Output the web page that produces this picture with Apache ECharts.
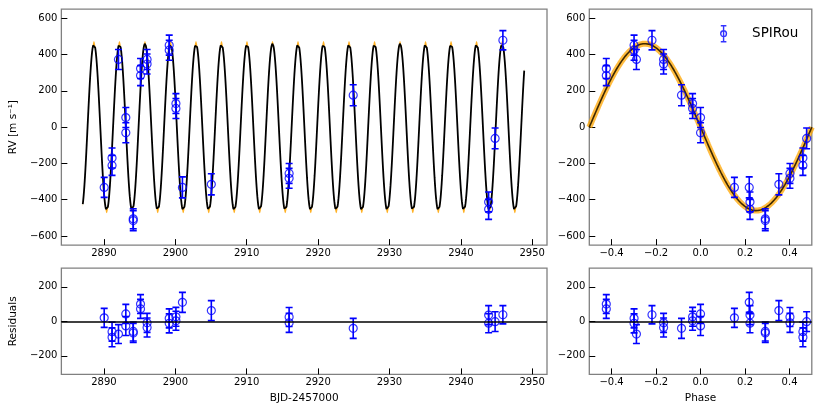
<!DOCTYPE html>
<html><head><meta charset="utf-8">
<script src="https://cdn.jsdelivr.net/npm/echarts@6/dist/echarts.min.js"></script>
<style>html,body{margin:0;padding:0;background:#fff}#c{width:822px;height:411px}</style>
</head><body><div id="c"></div>
<script>
const bjd = [2890.03, 2891.13, 2891.13, 2892.03, 2893.06, 2893.06, 2894.10, 2894.10, 2895.12, 2895.12,
             2896.04, 2896.04, 2899.14, 2899.14, 2900.08, 2900.08, 2900.99, 2905.04, 2915.94, 2915.94,
             2924.92, 2943.89, 2943.89, 2944.80, 2945.89];
const rv = [-332, -170, -211, 373, 53, -31, -505, -515, 323, 284,
            373, 348, 452, 424, 130, 103, -332, -315, -255, -282,
            176, -412, -453, -62, 479];
const rvErr = [55, 55, 55, 55, 55, 55, 55, 55, 55, 55,
               55, 55, 55, 55, 55, 55, 58, 58, 55, 55,
               58, 55, 55, 57, 53];
const residuals = [20, -60, -93, -74, 43, -27, -59, -68, 100, 72,
                   -9, -36, 17, -12, 26, 3, 110, 62, 25, -9,
                   -41, 36, -11, -2, 38];
// ---- fitted circular-orbit model parameters ----
const modelPeriod = 3.574;
const modelT0 = 2893.06;
const modelK = 460;
const modelSigma = 14;
// ---- ticks ----
const timeTicks = [2890, 2900, 2910, 2920, 2930, 2940, 2950];
const phaseTicks = [-0.4, -0.2, 0, 0.2, 0.4];
const rvTicks = [-600, -400, -200, 0, 200, 400, 600];
const residTicks = [-200, 0, 200];
const legendName = 'SPIRou';

function phaseOf(t) {
  let p = (t - modelT0) / modelPeriod;
  p = p - Math.floor(p);
  if (p >= 0.5) p -= 1;
  return p;
}
function model(t) { return -modelK * Math.sin(2 * Math.PI * (t - modelT0) / modelPeriod); }
function modelPhase(p) { return -modelK * Math.sin(2 * Math.PI * p); }

const tStart = Math.min(...bjd) - 3, tEnd = Math.max(...bjd) + 3;
const modelT = [];
for (let t = tStart; t <= tEnd + 1e-9; t += 0.01) modelT.push(t);
const modelLine = modelT.map(t => [t, model(t)]);
const modelPh = [];
for (let i = 0; i <= 500; i++) { const p = -0.5 + i / 500; modelPh.push([p, modelPhase(p)]); }

const timeData = bjd.map((t, i) => [t, rv[i], rvErr[i]]);
const phaseData = bjd.map((t, i) => [phaseOf(t), rv[i], rvErr[i]]);
const timeRes = bjd.map((t, i) => [t, residuals[i], rvErr[i]]);
const phaseRes = bjd.map((t, i) => [phaseOf(t), residuals[i], rvErr[i]]);

const BLUE = '#0000ff';
function errRender(params, api) {
  const x = api.value(0), y = api.value(1), e = api.value(2);
  const a = api.coord([x, y + e]), b = api.coord([x, y - e]);
  const w = 3.5;
  const st = { stroke: BLUE, lineWidth: 1.6, fill: null };
  return { type: 'group', children: [
    { type: 'line', shape: { x1: a[0], y1: a[1], x2: b[0], y2: b[1] }, style: st },
    { type: 'line', shape: { x1: a[0] - w, y1: a[1], x2: a[0] + w, y2: a[1] }, style: st },
    { type: 'line', shape: { x1: b[0] - w, y1: b[1], x2: b[0] + w, y2: b[1] }, style: st }
  ]};
}
function bandRender(params, api) {
  const up = modelT.map(t => api.coord([t, model(t) + modelSigma]));
  const lo = modelT.map(t => api.coord([t, model(t) - modelSigma])).reverse();
  return { type: 'polygon', shape: { points: up.concat(lo) }, style: { fill: '#ffa500', opacity: 0.85 } };
}
const fmt = v => { const s = String(v); return s.replace('-', '\u2212'); };
const fmtPh = v => v.toFixed(1).replace('-', '\u2212');
const FONT = 'DejaVu Sans';
function xAx(grid, min, max, ticks, f, name) {
  return { type: 'value', gridIndex: grid, min, max,
    axisLine: { show: false, onZero: false }, splitLine: { show: false },
    axisTick: { inside: true, length: 6, customValues: ticks, lineStyle: { color: '#000', width: 1 } },
    axisLabel: { customValues: ticks, formatter: f, color: '#000', fontSize: 10, fontFamily: FONT, margin: 3 },
    name: name || '', nameLocation: 'middle', nameGap: 18,
    nameTextStyle: { color: '#000', fontSize: 10.5, fontFamily: FONT } };
}
function yAx(grid, min, max, ticks, name) {
  return { type: 'value', gridIndex: grid, min, max,
    axisLine: { show: false, onZero: false }, splitLine: { show: false },
    axisTick: { inside: true, length: 6, customValues: ticks, lineStyle: { color: '#000', width: 1 } },
    axisLabel: { customValues: ticks, formatter: fmt, color: '#000', fontSize: 10, fontFamily: FONT, margin: 4 },
    name: name || '', nameLocation: 'middle', nameGap: 36,
    nameTextStyle: { color: '#000', fontSize: 10.5, fontFamily: FONT } };
}
const GB = { show: true, borderColor: '#808080', borderWidth: 1.3, backgroundColor: 'transparent' };
const TMIN = 2884.03, TMAX = 2952.07;
const option = {
  animation: false,
  backgroundColor: '#fff',
  grid: [
    Object.assign({ left: 58.5, top: 9.2, width: 488.5, height: 235.9 }, GB),
    Object.assign({ left: 589.3, top: 9.2, width: 222.5, height: 235.9 }, GB),
    Object.assign({ left: 58.5, top: 268.2, width: 488.5, height: 106.2 }, GB),
    Object.assign({ left: 589.3, top: 268.2, width: 222.5, height: 106.2 }, GB)
  ],
  xAxis: [
    xAx(0, TMIN, TMAX, timeTicks, fmt),
    xAx(1, -0.5, 0.5, phaseTicks, fmtPh),
    xAx(2, TMIN, TMAX, timeTicks, fmt, 'BJD-2457000'),
    xAx(3, -0.5, 0.5, phaseTicks, fmtPh, 'Phase')
  ],
  yAxis: [
    yAx(0, -650, 650, rvTicks, 'RV [m s\u207B\u00B9]'),
    yAx(1, -650, 650, rvTicks),
    yAx(2, -308, 308, residTicks, 'Residuals'),
    yAx(3, -308, 308, residTicks)
  ],
  legend: {
    data: [{ name: legendName,
      icon: 'path://M5 0V20M1.5 0H8.5M1.5 20H8.5M1.4 10A3.6 3.6 0 1 0 8.6 10A3.6 3.6 0 1 0 1.4 10Z',
      itemStyle: { color: 'rgba(0,0,0,0)', borderColor: BLUE, borderWidth: 1.4 } }],
    left: 715, top: 20, itemWidth: 9, itemHeight: 16,
    textStyle: { fontSize: 13.5, fontFamily: FONT, color: '#000', padding: [0, 0, 0, 19] },
    selectedMode: false
  },
  series: [
    { type: 'custom', name: 'band', xAxisIndex: 0, yAxisIndex: 0, data: [[tStart, 0]], renderItem: bandRender, silent: true, clip: true, z: 1 },
    { type: 'line', name: 'model', xAxisIndex: 0, yAxisIndex: 0, data: modelLine, showSymbol: false, lineStyle: { color: '#000', width: 1.8 }, silent: true, z: 2 },
    { type: 'custom', name: 'err1', xAxisIndex: 0, yAxisIndex: 0, data: timeData, renderItem: errRender, encode: { x: 0, y: 1 }, clip: true, z: 3 },
    { type: 'scatter', name: 'pts1', xAxisIndex: 0, yAxisIndex: 0, data: timeData, symbol: 'circle', symbolSize: 8, itemStyle: { color: 'rgba(0,0,0,0)', borderColor: BLUE, borderWidth: 1.2 }, z: 4 },

    { type: 'line', name: 'bandph', xAxisIndex: 1, yAxisIndex: 1, data: modelPh, showSymbol: false, lineStyle: { color: '#ffa500', width: 6, opacity: 0.75 }, silent: true, z: 1 },
    { type: 'line', name: 'modelph', xAxisIndex: 1, yAxisIndex: 1, data: modelPh, showSymbol: false, lineStyle: { color: '#3d2800', width: 1.6 }, silent: true, z: 2 },
    { type: 'custom', name: 'err2', xAxisIndex: 1, yAxisIndex: 1, data: phaseData, renderItem: errRender, encode: { x: 0, y: 1 }, clip: true, z: 3 },
    { type: 'scatter', name: legendName, xAxisIndex: 1, yAxisIndex: 1, data: phaseData, symbol: 'circle', symbolSize: 8, itemStyle: { color: 'rgba(0,0,0,0)', borderColor: BLUE, borderWidth: 1.2 }, z: 4 },

    { type: 'custom', name: 'err3', xAxisIndex: 2, yAxisIndex: 2, data: timeRes, renderItem: errRender, encode: { x: 0, y: 1 }, clip: true, z: 3 },
    { type: 'scatter', name: 'res1', xAxisIndex: 2, yAxisIndex: 2, data: timeRes, symbol: 'circle', symbolSize: 8, itemStyle: { color: 'rgba(0,0,0,0)', borderColor: BLUE, borderWidth: 1.2 }, z: 4,
      markLine: { silent: true, symbol: 'none', label: { show: false }, lineStyle: { color: '#000', width: 1.5, type: 'solid' }, data: [{ yAxis: 0 }] } },
    { type: 'custom', name: 'err4', xAxisIndex: 3, yAxisIndex: 3, data: phaseRes, renderItem: errRender, encode: { x: 0, y: 1 }, clip: true, z: 3 },
    { type: 'scatter', name: 'res2', xAxisIndex: 3, yAxisIndex: 3, data: phaseRes, symbol: 'circle', symbolSize: 8, itemStyle: { color: 'rgba(0,0,0,0)', borderColor: BLUE, borderWidth: 1.2 }, z: 4,
      markLine: { silent: true, symbol: 'none', label: { show: false }, lineStyle: { color: '#000', width: 1.5, type: 'solid' }, data: [{ yAxis: 0 }] } }
  ]
};
const chart = echarts.init(document.getElementById('c'), null, { renderer: 'canvas' });
chart.setOption(option);
</script>
</body></html>
